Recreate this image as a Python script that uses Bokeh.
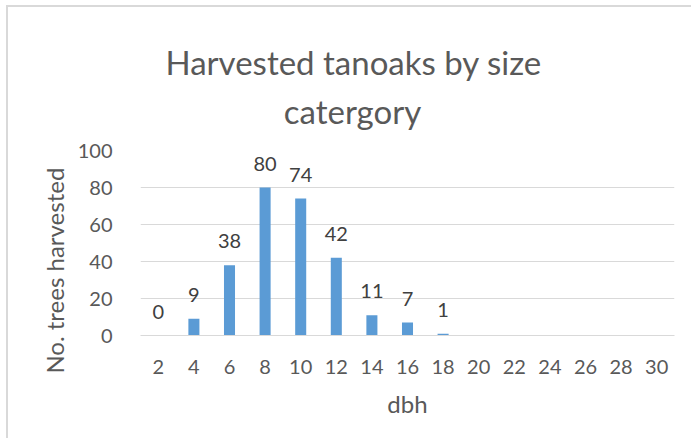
from bokeh.plotting import figure
from bokeh.models import ColumnDataSource, FactorRange, Range1d, FixedTicker, Title
from bokeh.core.properties import value
from bokeh.embed import file_html
from bokeh.resources import INLINE

# ---- data ----
dbh = ["2", "4", "6", "8", "10", "12", "14", "16", "18", "20", "22", "24", "26", "28", "30"]
label_dbh = ["2", "4", "6", "8", "10", "12", "14", "16", "18"]
harvested = [0, 9, 38, 80, 74, 42, 11, 7, 1]
y_ticks = [0, 20, 40, 60, 80, 100]
title_line1 = "Harvested tanoaks by size"
title_line2 = "catergory"

FONT = "Lato"
GREY = "#595959"

p = figure(
    width=685, height=433, title=None,
    x_range=FactorRange(*dbh),
    y_range=Range1d(0, 100),
    output_backend="svg", toolbar_location=None,
    min_border_left=132, min_border_right=19,
    min_border_top=143, min_border_bottom=105,
)
p.styles = {
    "border-top": "2px solid #D9D9D9",
    "border-left": "2px solid #D9D9D9",
    "border-right": "0px solid white",
    "border-bottom": "none",
    "outline": "none",
    "margin-left": "6px",
    "margin-top": "5px",
}
p.outline_line_color = None
p.background_fill_color = "white"
p.border_fill_color = "white"

# title: one two-line block, second line centred under the first
title_text = title_line1 + "\n" + "\u00a0" * 14 + title_line2
t = Title(text=title_text, align="left", offset=25, standoff=38,
          text_font=FONT, text_font_size="33px", text_font_style="normal",
          text_color=GREY, text_line_height=1.24)
p.add_layout(t, "above")

src = ColumnDataSource(dict(x=label_dbh, top=harvested, txt=[str(v) for v in harvested]))
p.vbar(x="x", top="top", width=0.31, source=src, fill_color="#5B9BD5", line_color=None)
p.text(x="x", y="top", text="txt", source=src, text_align="center", text_baseline="middle",
       y_offset=-24, text_font=value(FONT), text_font_size="20px", text_color="#404040")

# axes
p.yaxis.ticker = FixedTicker(ticks=y_ticks)
p.yaxis.axis_line_color = None
p.yaxis.major_tick_line_color = None
p.yaxis.minor_tick_line_color = None
p.yaxis.major_label_text_font = FONT
p.yaxis.major_label_text_font_size = "20px"
p.yaxis.major_label_text_color = GREY
p.yaxis.major_label_standoff = 22
p.yaxis.axis_label = "No. trees harvested" + "\u00a0" * 9
p.yaxis.axis_label_text_font = FONT
p.yaxis.axis_label_text_font_size = "24px"
p.yaxis.axis_label_text_font_style = "normal"
p.yaxis.axis_label_text_color = GREY
p.yaxis.axis_label_standoff = 6

p.xaxis.axis_line_color = "#D9D9D9"
p.xaxis.major_tick_line_color = None
p.xaxis.minor_tick_line_color = None
p.xaxis.major_label_text_font = FONT
p.xaxis.major_label_text_font_size = "20px"
p.xaxis.major_label_text_color = GREY
p.xaxis.major_label_standoff = 18
p.xaxis.axis_label = "dbh"
p.xaxis.axis_label_text_font = FONT
p.xaxis.axis_label_text_font_size = "24px"
p.xaxis.axis_label_text_font_style = "normal"
p.xaxis.axis_label_text_color = GREY
p.xaxis.axis_label_standoff = 12

p.xgrid.grid_line_color = None
p.ygrid.grid_line_color = "#D9D9D9"
p.ygrid.grid_line_width = 1

open("out.html", "w").write(file_html(p, INLINE))
